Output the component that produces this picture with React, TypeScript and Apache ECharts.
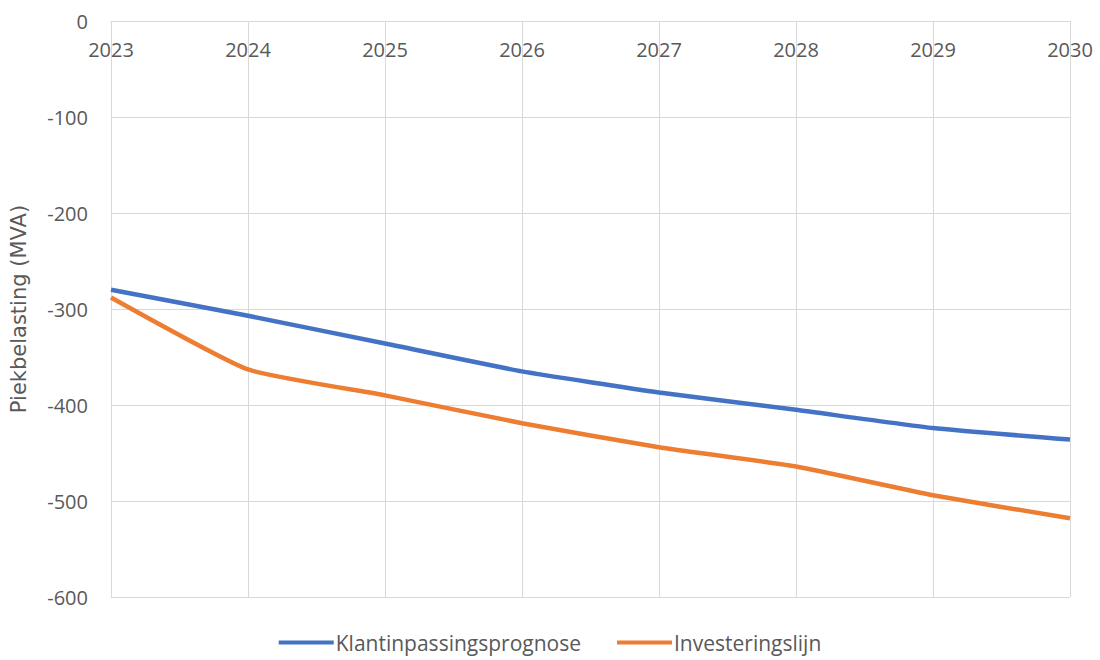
import React, { useEffect, useRef } from "react";
import * as echarts from "echarts";

const years = ["2023", "2024", "2025", "2026", "2027", "2028", "2029", "2030"];
const klantinpassing = [-280, -307, -336, -365, -387, -405, -424, -436];
const investeringslijn = [-288, -363, -390, -419, -444, -464, -494, -518];
const seriesNames = ["Klantinpassingsprognose", "Investeringslijn"];

const FONT = "'Open Sans', 'Noto Sans', sans-serif";

export default function App() {
  const ref = useRef<HTMLDivElement>(null);
  useEffect(() => {
    const chart = echarts.init(ref.current!, null, { renderer: "svg" });
    chart.setOption({
      animation: false,
      textStyle: { fontFamily: FONT },
      grid: { left: 111, right: 30, top: 21, bottom: 63 },
      legend: {
        bottom: 2,
        left: "center",
        itemWidth: 55,
        itemHeight: 4,
        itemGap: 36,
        icon: "rect",
        textStyle: { fontSize: 21, color: "#595959", fontFamily: FONT, padding: [0, 0, 0, -3] },
        data: seriesNames,
      },
      xAxis: {
        type: "category",
        data: years,
        position: "top",
        boundaryGap: false,
        axisLine: { show: true, lineStyle: { color: "#d9d9d9" } },
        axisTick: { show: false },
        axisLabel: { inside: true, margin: 18, fontSize: 20, color: "#595959", fontFamily: FONT },
        splitLine: { show: true, lineStyle: { color: "#d9d9d9", width: 1 } },
      },
      yAxis: {
        type: "value",
        min: -600,
        max: 0,
        interval: 100,
        name: "Piekbelasting (MVA)",
        nameLocation: "middle",
        nameGap: 82,
        nameTextStyle: { fontSize: 21, color: "#595959", fontFamily: "'DejaVu Sans', sans-serif" },
        axisLine: { show: false },
        axisTick: { show: false },
        axisLabel: { fontSize: 20, color: "#595959", margin: 23, fontFamily: FONT, padding: [0, 0, 8, 0] },
        splitLine: { show: true, lineStyle: { color: "#d9d9d9", width: 1 } },
      },
      series: [
        {
          name: seriesNames[0],
          type: "line",
          data: klantinpassing,
          smooth: 0.15,
          showSymbol: false,
          lineStyle: { color: "#4472C4", width: 4.5 },
          itemStyle: { color: "#4472C4" },
        },
        {
          name: seriesNames[1],
          type: "line",
          data: investeringslijn,
          smooth: 0.15,
          showSymbol: false,
          lineStyle: { color: "#ED7D31", width: 4.5 },
          itemStyle: { color: "#ED7D31" },
        },
      ],
    });
    return () => chart.dispose();
  }, []);
  return (
    <div
      ref={ref}
      style={{ position: "absolute", left: 0, top: 0, width: 1100, height: 660, background: "#fff" }}
    />
  );
}
